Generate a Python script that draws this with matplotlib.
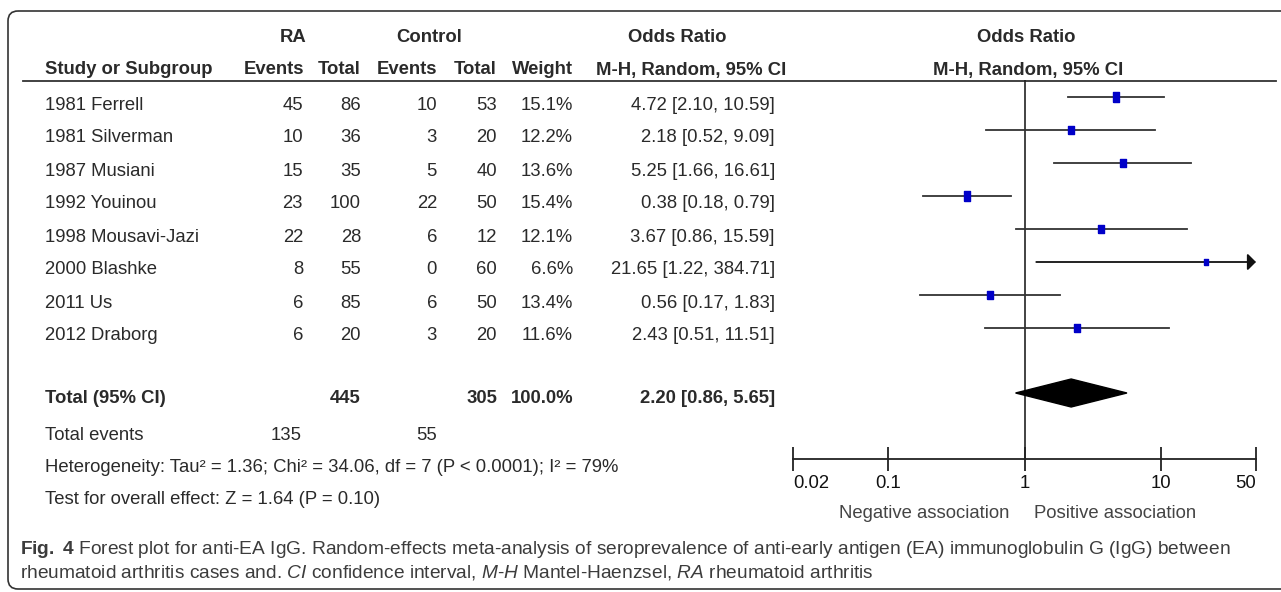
import numpy as np
import matplotlib.pyplot as plt
from matplotlib.patches import FancyBboxPatch

plt.rcParams['font.family'] = ['Liberation Sans', 'DejaVu Sans']
plt.rcParams['mathtext.fontset'] = 'custom'
plt.rcParams['mathtext.rm'] = 'Liberation Sans'
plt.rcParams['mathtext.it'] = 'Liberation Sans:italic'
plt.rcParams['mathtext.bf'] = 'Liberation Sans:bold'

studies = ['1981 Ferrell', '1981 Silverman', '1987 Musiani', '1992 Youinou',
           '1998 Mousavi-Jazi', '2000 Blashke', '2011 Us', '2012 Draborg']
ra_events = [45, 10, 15, 23, 22, 8, 6, 6]
ra_total = [86, 36, 35, 100, 28, 55, 85, 20]
ctrl_events = [10, 3, 5, 22, 6, 0, 6, 3]
ctrl_total = [53, 20, 40, 50, 12, 60, 50, 20]
weight = [15.1, 12.2, 13.6, 15.4, 12.1, 6.6, 13.4, 11.6]
odds = [4.72, 2.18, 5.25, 0.38, 3.67, 21.65, 0.56, 2.43]
ci_low = [2.10, 0.52, 1.66, 0.18, 0.86, 1.22, 0.17, 0.51]
ci_high = [10.59, 9.09, 16.61, 0.79, 15.59, 384.71, 1.83, 11.51]

total_or, total_low, total_high = 2.20, 0.86, 5.65
total_ra, total_ctrl = 445, 305
events_ra, events_ctrl = 135, 55
xticks = [0.02, 0.1, 1, 10, 50]
xlabels = ['0.02', '0.1', '1', '10', '50']

W, H = 1281, 592
txt = '#2a2a2a'
fs = 13.3

fig = plt.figure(figsize=(W / 100, H / 100), dpi=100)
bg = fig.add_axes([0, 0, 1, 1])
bg.set_xlim(0, W)
bg.set_ylim(H, 0)
bg.axis('off')

# frame with rounded corners
bg.add_patch(FancyBboxPatch((8, 11), 1300, 578, boxstyle='round,pad=0,rounding_size=10',
                            fc='none', ec='#333333', lw=1.2))

# header
bold = dict(fontsize=fs, fontweight='bold', color=txt, va='center')
bg.text(293, 37, 'RA', ha='center', **bold)
bg.text(429, 37, 'Control', ha='center', **bold)
bg.text(628, 37, 'Odds Ratio', ha='left', **bold)
bg.text(1026, 37, 'Odds Ratio', ha='center', **bold)
bg.text(45, 70, 'Study or Subgroup', ha='left', **bold)
for x, s in zip([304, 361, 437, 496, 573], ['Events', 'Total', 'Events', 'Total', 'Weight']):
    bg.text(x, 70, s, ha='right', **bold)
bg.text(596, 70, 'M-H, Random, 95% CI', ha='left', **bold)
bg.text(1028, 70, 'M-H, Random, 95% CI', ha='center', **bold)
bg.plot([23, 1276], [81, 81], color='#333333', lw=1.3)

# study rows
norm = dict(fontsize=fs, color=txt, va='center')
for i, name in enumerate(studies):
    y = 105 + 33 * i
    bg.text(45, y, name, ha='left', **norm)
    bg.text(303, y, str(ra_events[i]), ha='right', **norm)
    bg.text(361, y, str(ra_total[i]), ha='right', **norm)
    bg.text(437, y, str(ctrl_events[i]), ha='right', **norm)
    bg.text(497, y, str(ctrl_total[i]), ha='right', **norm)
    bg.text(573, y, '%.1f%%' % weight[i], ha='right', **norm)
    bg.text(775, y, '%.2f [%.2f, %.2f]' % (odds[i], ci_low[i], ci_high[i]), ha='right', **norm)

# totals
bg.text(45, 398.5, 'Total (95% CI)', ha='left', **bold)
bg.text(361, 398.5, str(total_ra), ha='right', **bold)
bg.text(497, 398.5, str(total_ctrl), ha='right', **bold)
bg.text(573, 398.5, '100.0%', ha='right', **bold)
bg.text(775, 398.5, '%.2f [%.2f, %.2f]' % (total_or, total_low, total_high), ha='right', **bold)
bg.text(45, 435, 'Total events', ha='left', **norm)
bg.text(302, 435, str(events_ra), ha='right', **norm)
bg.text(437, 435, str(events_ctrl), ha='right', **norm)
bg.text(45, 468, 'Heterogeneity: Tau² = 1.36; Chi² = 34.06, df = 7 (P < 0.0001); I² = 79%',
        ha='left', **norm)
bg.text(45, 500, 'Test for overall effect: Z = 1.64 (P = 0.10)', ha='left', **norm)

bg.text(1009, 513, 'Negative association', ha='right', fontsize=fs, color='#444444', va='center')
bg.text(1034, 513, 'Positive association', ha='left', fontsize=fs, color='#444444', va='center')

# caption
cap = dict(fontsize=13.8, color='#3c3c3c', va='center', ha='left')
bg.text(20, 549, '$\\bf{Fig.\\ 4}$ Forest plot for anti-EA IgG. Random-effects meta-analysis of '
        'seroprevalence of anti-early antigen (EA) immunoglobulin G (IgG) between', **cap)
bg.text(20, 573, 'rheumatoid arthritis cases and. $\\it{CI}$ confidence interval, '
        '$\\it{M}$-$\\it{H}$ Mantel-Haenzsel, $\\it{RA}$ rheumatoid arthritis', **cap)

# forest plot
top, bot = 80, 459
ax = fig.add_axes([793 / W, (H - bot) / H, 463 / W, (bot - top) / H])
ax.set_xscale('log')
ax.set_xlim(0.02, 50)
ax.set_ylim(bot, top)
ax.patch.set_alpha(0)
for s in ['top', 'right', 'left']:
    ax.spines[s].set_visible(False)
ax.spines['bottom'].set_color('#222222')
ax.spines['bottom'].set_linewidth(1.3)
ax.set_yticks([])
ax.set_xticks(xticks)
ax.set_xticklabels(xlabels)
ax.minorticks_off()
ax.tick_params(axis='x', direction='inout', length=17, width=1.3, color='#222222',
               labelsize=fs, labelcolor='#111111', pad=3)
tl = ax.get_xticklabels()
tl[0].set_ha('left')
tl[-1].set_ha('right')

ax.axvline(1, color='#222222', lw=1.2)

box = [(-0.36, -0.5), (0.36, -0.5), (0.36, 0.5), (-0.36, 0.5), (-0.36, -0.5)]
for i in range(len(studies)):
    y = 97 + 33 * i
    if ci_high[i] > 50:
        ax.annotate('', xy=(50, y), xytext=(ci_low[i], y), annotation_clip=False,
                    arrowprops=dict(arrowstyle='-|>,head_length=0.5,head_width=0.5',
                                    color='#111111', lw=1.3, shrinkA=0, shrinkB=0))
    else:
        ax.plot([ci_low[i], ci_high[i]], [y, y], color='#333333', lw=1.3)
    ax.plot(odds[i], y, marker=box, markersize=6.6 * np.sqrt(weight[i] / 15.1),
            color='#0000c8', mec='#0000c8', zorder=3)

dy = 393
ax.fill([total_low, total_or, total_high, total_or], [dy, dy - 14, dy, dy + 14],
        color='black', zorder=3)

plt.savefig('out.png', dpi=100)
